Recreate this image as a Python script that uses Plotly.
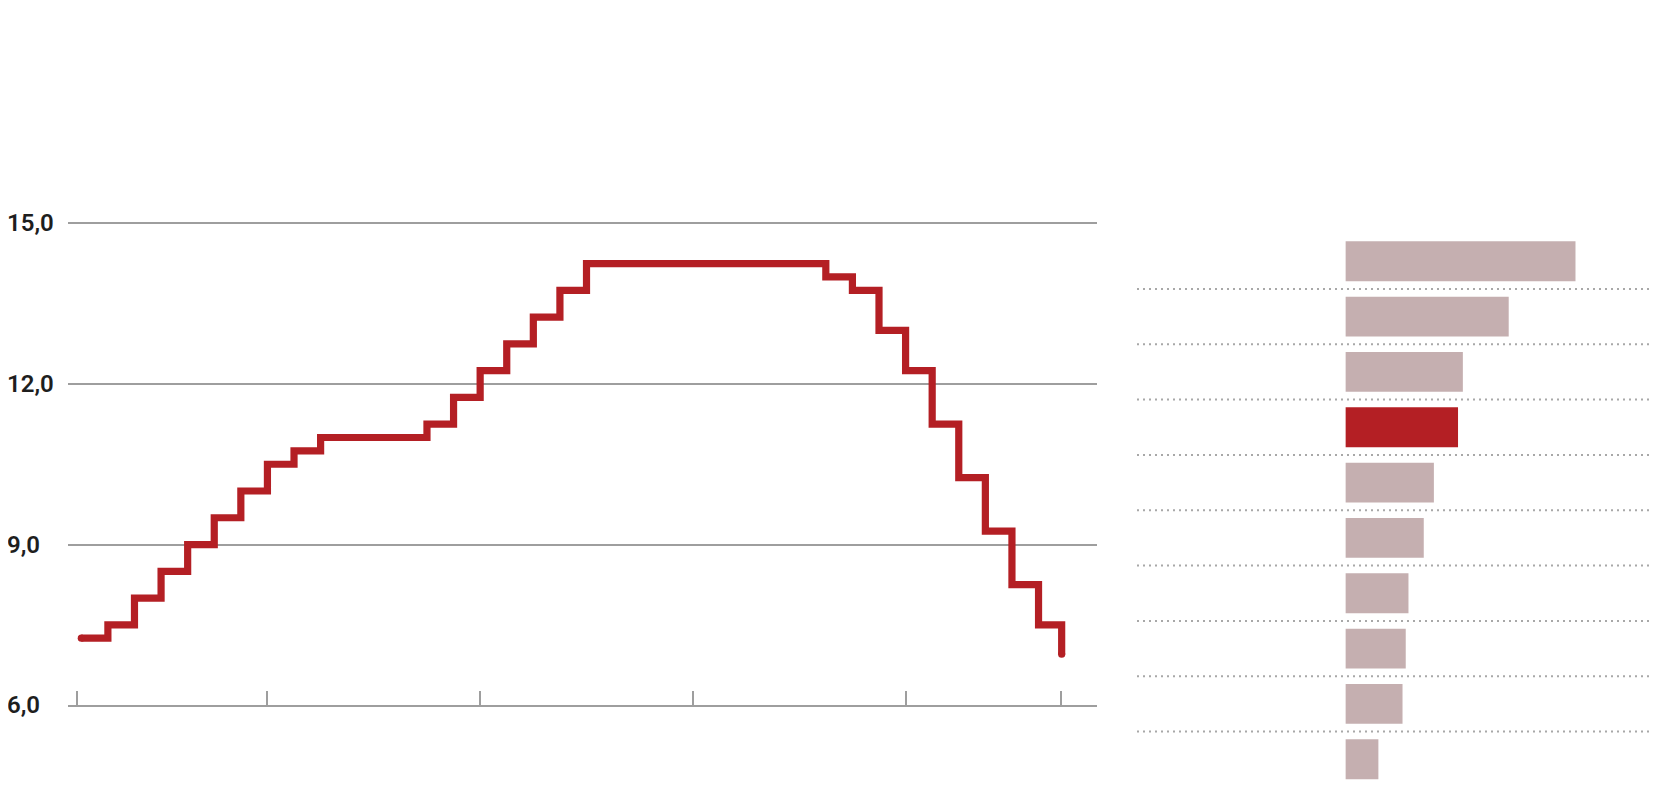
import plotly.graph_objects as go

# ---- data: step line (rate per meeting index) ----
meeting = [0, 1, 2, 3, 4, 5, 6, 7, 8, 9, 10, 11, 12, 13, 14, 15, 16, 17, 18,
           19, 20, 21, 22, 23, 24, 25, 26, 27, 28, 29, 30, 31, 32, 33, 34, 35, 36, 36.87]
rate = [7.25, 7.5, 8.0, 8.5, 9.0, 9.5, 10.0, 10.5, 10.75, 11.0, 11.0, 11.0, 11.0,
        11.25, 11.75, 12.25, 12.75, 13.25, 13.75,
        14.25, 14.25, 14.25, 14.25, 14.25, 14.25, 14.25, 14.25, 14.25,
        14.0, 13.75, 13.0, 12.25, 11.25, 10.25, 9.25, 8.25, 7.5, 6.95]
x_ticks = [-0.17, 7, 15, 23, 31, 36.85]
y_ticks = [6, 9, 12, 15]
y_tick_labels = ["6,0", "9,0", "12,0", "15,0"]

# ---- data: ranking bars ----
rank = [1, 2, 3, 4, 5, 6, 7, 8, 9, 10]
bar_values = [14.3, 10.15, 7.3, 7.0, 5.5, 4.87, 3.92, 3.75, 3.55, 2.05]
highlight_rank = 4

RED = "#b41f24"
PINK = "#c5afb0"
GRID = "#9e9e9e"
PAGE_PAD = 8
W, H = 1660 - 2 * PAGE_PAD, 792 - 2 * PAGE_PAD


def px_x(p):
    return min(1.0, max(0.0, (p - PAGE_PAD) / W))


def px_y(p):
    return min(1.0, max(0.0, 1 - (p - PAGE_PAD) / H))


fig = go.Figure()

fig.add_trace(go.Scatter(
    x=meeting, y=rate, mode="lines", line=dict(color=RED, width=7.2, shape="hv"),
    hoverinfo="skip", xaxis="x", yaxis="y", showlegend=False))
fig.add_trace(go.Scatter(
    x=[meeting[0], meeting[-1]], y=[rate[0], rate[-1]], mode="markers",
    marker=dict(color=RED, size=7.2, line=dict(width=0)),
    hoverinfo="skip", xaxis="x", yaxis="y", showlegend=False))

colors = [RED if r == highlight_rank else PINK for r in rank]
fig.add_trace(go.Bar(
    x=bar_values, y=[r - 1 for r in rank], orientation="h",
    marker=dict(color=colors, line=dict(width=0)),
    width=0.72, xaxis="x2", yaxis="y2", showlegend=False, hoverinfo="skip"))

# separators between bar rows
shapes = []
for r in rank[:-1]:
    shapes.append(dict(type="line", xref="paper", yref="y2",
                       x0=(1137 - PAGE_PAD) / W, x1=(1650 - PAGE_PAD) / W,
                       y0=r - 0.5, y1=r - 0.5,
                       line=dict(color="#a8a8a8", width=2, dash="2px,4px"), layer="below"))

annotations = []
for v, t in zip(y_ticks, y_tick_labels):
    annotations.append(dict(xref="paper", yref="y", x=(5 - PAGE_PAD) / W, y=v, text=t,
                            xanchor="left", yanchor="middle", showarrow=False,
                            font=dict(family="Roboto", size=24, color="#1e1e1e", weight=600)))

x0_px, step_px = 81.3, 26.59
row_px = 55.33
bar_top_px = 233.6
bar_bot_px = 792 - PAGE_PAD
fig.update_layout(
    width=W, height=H, margin=dict(l=0, r=0, t=0, b=0),
    paper_bgcolor="white", plot_bgcolor="white",
    xaxis=dict(domain=[px_x(67.8), px_x(1097)],
               range=[(67.8 - x0_px) / step_px, (1097 - x0_px) / step_px],
               showgrid=False, zeroline=False, showline=True, linecolor=GRID, linewidth=2,
               ticks="inside", ticklen=14, tickwidth=2, tickcolor=GRID,
               tickvals=x_ticks, ticktext=[""] * len(x_ticks), fixedrange=True),
    yaxis=dict(domain=[px_y(705.1), px_y(207.35)], range=[6, 15.3],
               tickvals=y_ticks, showticklabels=False, showgrid=True,
               gridcolor=GRID, gridwidth=2, zeroline=False, fixedrange=True),
    xaxis2=dict(domain=[px_x(1345.4), px_x(1650)], range=[0, (1650 - 1345.4) / 16.09],
                showgrid=False, zeroline=False, showticklabels=False, showline=False,
                anchor="y2", fixedrange=True),
    yaxis2=dict(domain=[px_y(bar_bot_px), px_y(bar_top_px)],
                range=[-0.5 + (bar_bot_px - bar_top_px) / row_px, -0.5],
                showgrid=False, zeroline=False, showticklabels=False, showline=False,
                anchor="x2", fixedrange=True),
    shapes=shapes, annotations=annotations,
)

fig.write_html("out.html")
